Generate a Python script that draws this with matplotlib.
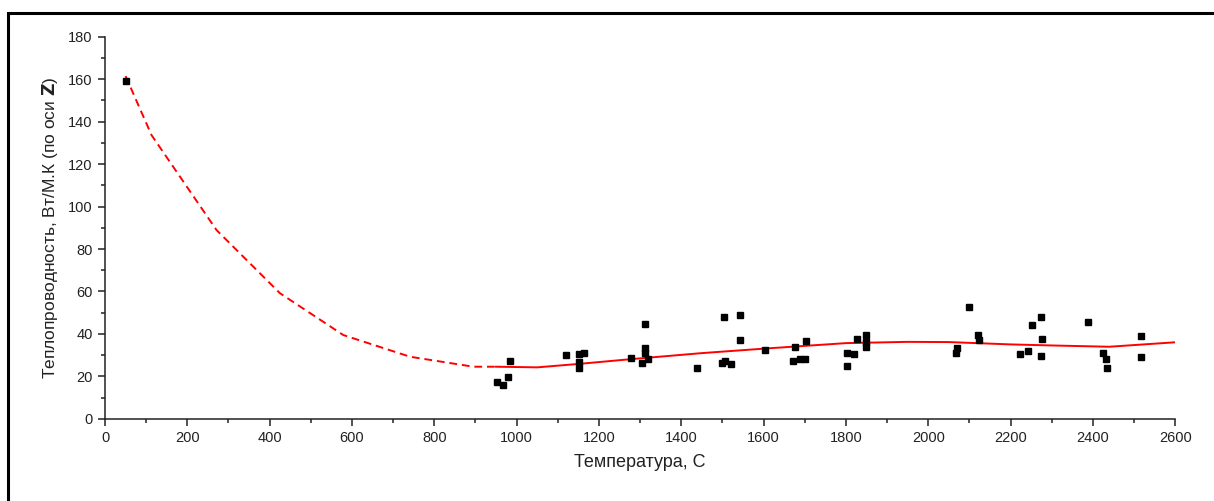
import matplotlib
matplotlib.use("Agg")
import matplotlib.pyplot as plt
from matplotlib.patches import Rectangle

plt.rcParams['font.family'] = ['Liberation Sans', 'DejaVu Sans']

# экспериментальные точки
temp_pts = [50, 952, 968, 978, 984, 1121, 1152, 1152, 1152, 1164,
            1277, 1304, 1313, 1313, 1313, 1320, 1439, 1498, 1504, 1506,
            1522, 1542, 1542, 1603, 1671, 1677, 1688, 1701, 1702, 1802,
            1802, 1820, 1828, 1850, 1850, 1850, 2067, 2069, 2099, 2122,
            2124, 2222, 2243, 2252, 2274, 2277, 2274, 2389, 2425, 2431,
            2435, 2516, 2516]
lam_pts = [159.0, 17.6, 15.9, 19.6, 27.3, 30.3, 30.4, 27.0, 23.9, 31.1,
           28.6, 26.5, 44.7, 33.3, 31.0, 28.1, 24.1, 26.2, 48.1, 27.4,
           25.7, 48.9, 37.3, 32.5, 27.4, 34.0, 28.4, 28.4, 36.9, 31.2,
           24.9, 30.4, 37.8, 39.4, 36.4, 34.0, 30.9, 33.3, 52.8, 39.5,
           37.2, 30.4, 32.0, 44.2, 48.1, 37.6, 29.8, 45.6, 30.9, 28.1,
           24.1, 38.9, 29.2]

# экстраполяция (пунктир)
temp_extr = [50, 113, 271, 425, 579, 741, 895, 960]
lam_extr = [161.4, 133.6, 88.9, 59.2, 39.5, 29.3, 24.6, 24.6]

# аппроксимация (сплошная)
temp_fit = [950, 1050, 1150, 1280, 1450, 1600, 1800, 1950, 2050, 2200, 2300, 2440, 2600]
lam_fit = [24.6, 24.3, 25.9, 28.2, 31.0, 33.1, 35.7, 36.3, 36.2, 35.1, 34.6, 34.0, 36.1]

fig = plt.figure(figsize=(12.14, 5.01), dpi=100)
ax = fig.add_axes([0.0865, 0.1637, 0.8815, 0.7634])

ax.plot(temp_extr, lam_extr, color='#ff0000', lw=1.4, ls=(0, (4, 2.5)))
ax.plot(temp_fit, lam_fit, color='#ff0000', lw=1.4)
ax.plot(temp_pts, lam_pts, 's', color='black', ms=5, mec='black')

ax.set_xlim(0, 2600)
ax.set_ylim(0, 180)
ax.set_xticks(range(0, 2601, 200))
ax.set_xticks(range(0, 2601, 100), minor=True)
ax.set_yticks(range(0, 181, 20))
ax.set_yticks(range(0, 181, 10), minor=True)

for s in ['top', 'right']:
    ax.spines[s].set_visible(False)
for s in ['left', 'bottom']:
    ax.spines[s].set_linewidth(1.1)
    ax.spines[s].set_color('#222222')

ax.tick_params(which='major', direction='out', length=5, width=1.1, labelsize=10.5, colors='#222222', pad=4)
ax.tick_params(which='minor', direction='out', length=3, width=1.1, colors='#222222')

ax.set_xlabel('Температура, С', fontsize=13, color='#222222', labelpad=6)
ax.set_ylabel('Теплопроводность, Вт/М.К (по оси $\\mathbf{Z}$)', fontsize=12.5, color='#222222', labelpad=6)

# рамка вокруг рисунка
fig.patches.append(Rectangle((8 / 1214, -0.2), 1.2, 1.2 - 13 / 501,
                             transform=fig.transFigure, fill=False, lw=2.2,
                             edgecolor='black'))

fig.savefig('out.png', dpi=100)
